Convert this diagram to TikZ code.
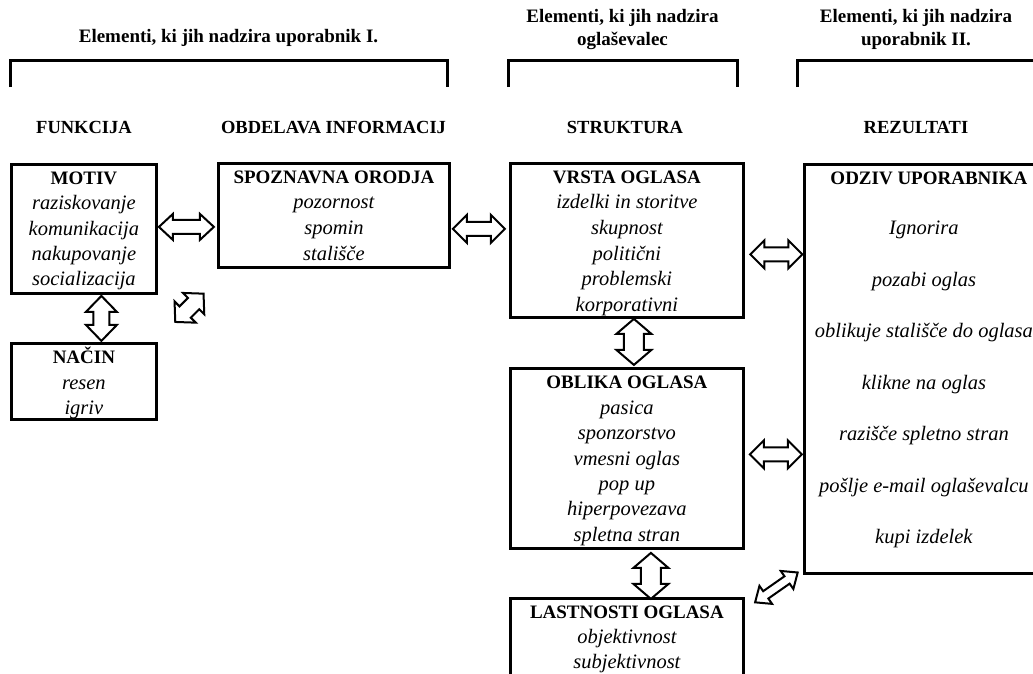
\documentclass[tikz,border=0pt]{standalone}
\usepackage{fontspec}
\setmainfont{Liberation Serif}
\usetikzlibrary{calc}
\tikzset{
  box/.style={draw, line width=2.8pt, anchor=north west, inner sep=0pt},
  hd/.style={font=\bfseries\fontsize{19}{22}\selectfont, inner sep=0pt, anchor=base},
  colhd/.style={font=\bfseries\fontsize{18.5}{22}\selectfont, inner sep=0pt, anchor=base},
  itm/.style={font=\itshape\fontsize{20.5}{24}\selectfont, inner sep=0pt, anchor=base},
  bracket/.style={line width=3pt, line cap=butt, line join=miter},
  arrowline/.style={draw, line width=2pt, line join=miter, fill=white},
  pics/dblarrow/.style n args={4}{code={
    \draw[arrowline] (-#1/2,0) -- (-#1/2+#2,#3/2) -- (-#1/2+#2,#4/2) -- (#1/2-#2,#4/2)
      -- (#1/2-#2,#3/2) -- (#1/2,0) -- (#1/2-#2,-#3/2) -- (#1/2-#2,-#4/2)
      -- (-#1/2+#2,-#4/2) -- (-#1/2+#2,-#3/2) -- cycle;
  }}
}
\newcommand\boxtxt[6][0]{%
  \node[hd] (#2-t) at ($(#2.north)+(0,21.5)$) {#5};
  \foreach \itmtext [count=\k] in {#6} {
    \node[itm] (#2-\k) at ($(#2-t.base)+(#1,#3+\k*#4-#4)$) {\itmtext};
  }%
}
\begin{document}
\begin{tikzpicture}[x=1pt,y=-1pt]
\useasboundingbox (0,0) rectangle (1033,673);
\fill[white] (0,0) rectangle (1033,673);
\clip (0,0) rectangle (1033,673);

% group titles
\node[hd] (t1) at (228.5,42.5) {Elementi, ki jih nadzira uporabnik I.};
\node[hd] (t2a) at (622.5,22) {Elementi, ki jih nadzira};
\node[hd] (t2b) at (622.5,45.5) {oglaševalec};
\node[hd] (t3a) at (916,22) {Elementi, ki jih nadzira};
\node[hd] (t3b) at (916,45.5) {uporabnik II.};

% brackets
\draw[bracket] (10,87) -- (10,60) -- (447,60) -- (447,87);
\draw[bracket] (508,87) -- (508,60) -- (737,60) -- (737,87);
\draw[bracket] (797,87) -- (797,60) -- (1050,60) -- (1050,87);

% column headers
\node[colhd] (h1) at (84,133.5) {FUNKCIJA};
\node[colhd] (h2) at (333.5,133.5) {OBDELAVA INFORMACIJ};
\node[colhd] (h3) at (625,133.5) {STRUKTURA};
\node[colhd] (h4) at (916,133.5) {REZULTATI};

% boxes
\node[box, minimum width=145, minimum height=129] (motiv) at (10,163) {};
\node[box, minimum width=145, minimum height=76] (nacin) at (10,342) {};
\node[box, minimum width=231, minimum height=104] (spoz) at (217,162) {};
\node[box, minimum width=233, minimum height=154] (vrsta) at (509,162) {};
\node[box, minimum width=233, minimum height=180] (oblika) at (509,367) {};
\node[box, minimum width=233, minimum height=110] (last) at (509,597) {};
\node[box, minimum width=249, minimum height=409] (odziv) at (803,163) {};

% box texts
\boxtxt{motiv}{25.3}{25.2}{MOTIV}{raziskovanje,komunikacija,nakupovanje,socializacija}
\boxtxt{nacin}{26}{25.2}{NAČIN}{resen,igriv}
\boxtxt{spoz}{25.3}{25.6}{SPOZNAVNA ORODJA}{pozornost,spomin,stališče}
\boxtxt{vrsta}{25.3}{25.6}{VRSTA OGLASA}{izdelki in storitve,skupnost,politični,problemski,korporativni}
\boxtxt{oblika}{25.8}{25.4}{OBLIKA OGLASA}{pasica,sponzorstvo,vmesni oglas,pop up,hiperpovezava,spletna stran}
\boxtxt{last}{24.5}{25}{LASTNOSTI OGLASA}{objektivnost,subjektivnost}
\boxtxt[-5]{odziv}{50}{51.5}{ODZIV UPORABNIKA}{Ignorira,pozabi oglas,oblikuje stališče do oglasa,klikne na oglas,razišče spletno stran,pošlje e-mail oglaševalcu,kupi izdelek}

% block double arrows (connectors)
\pic (a1) at ($(motiv.east)!.5!(spoz.west|-motiv.east)+(-1,-2)$) {dblarrow={55}{14}{26}{14}};
\pic (a2) at ($(spoz.east|-motiv.east)!.5!(vrsta.west|-motiv.east)+(-1,0)$) {dblarrow={52}{14}{28}{14}};
\pic (a3) at ($(vrsta.east)!.5!(odziv.west|-vrsta.east)+(2.5,14)$) {dblarrow={52}{14}{28}{14}};
\pic (a4) at ($(oblika.east)!.5!(odziv.west|-oblika.east)+(2,-4)$) {dblarrow={52}{14}{28}{14}};
\pic[rotate=90] (a5) at ($(motiv.south)!.5!(nacin.north)+(17.5,0)$) {dblarrow={45}{16}{31}{16}};
\pic[rotate=90] (a6) at ($(vrsta.south)!.5!(oblika.north)+(7,-1)$) {dblarrow={46}{15}{35}{20}};
\pic[rotate=90] (a7) at ($(oblika.south)!.5!(last.north)+(24,2.5)$) {dblarrow={46}{15}{35}{20}};
\pic[rotate=45] (a8) at ($(motiv.south east)!.5!(spoz.south west)+(2,26)$) {dblarrow={40}{14}{30}{16}};
\pic[rotate=35] (a9) at ($(last.north east)!.5!(odziv.south west)+(2.5,1.5)$) {dblarrow={52}{13}{22}{9}};
\end{tikzpicture}
\end{document}
